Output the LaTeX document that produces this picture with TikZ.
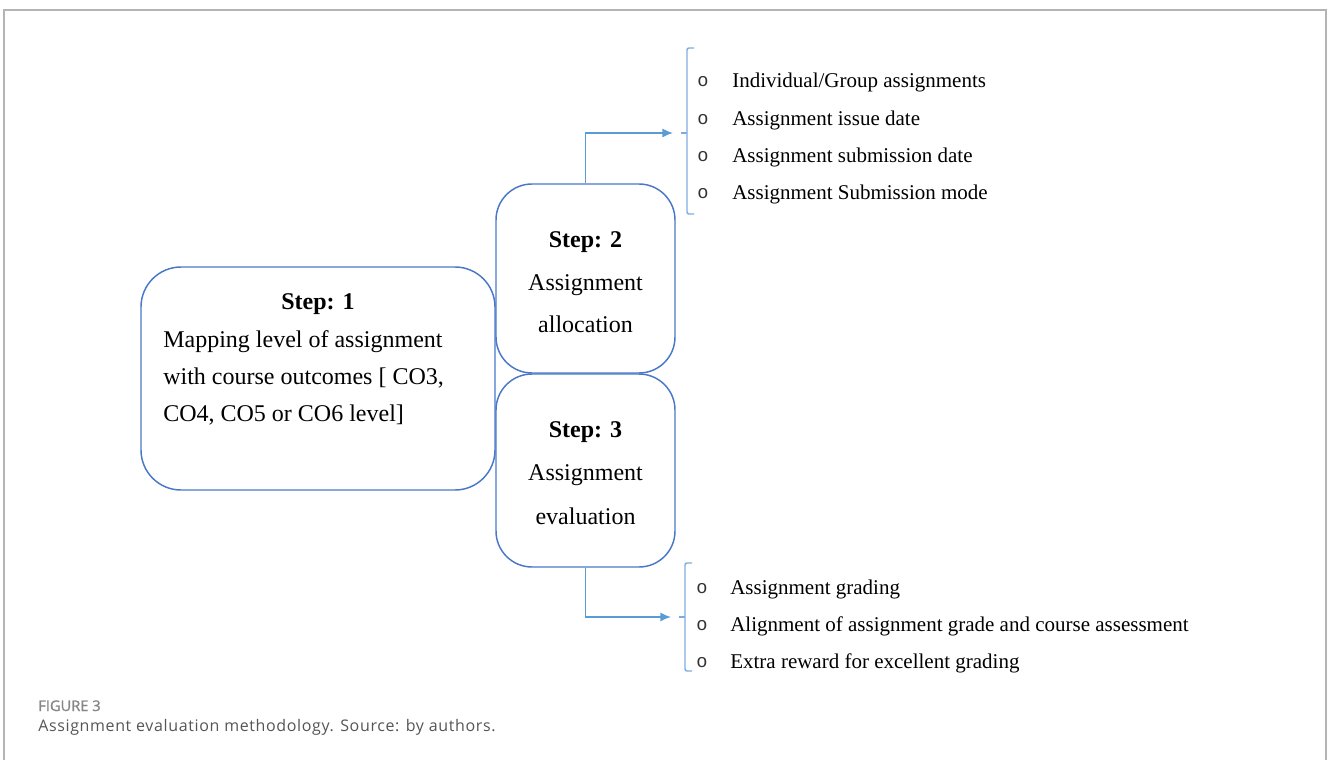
\documentclass[tikz,border=0pt]{standalone}
\usepackage{fontspec}
\setmainfont{Liberation Serif}
\newfontfamily\bulfont{Liberation Mono}
\newfontfamily\capfont[LetterSpace=4]{Open Sans}
\newfontfamily\caphead[FakeBold=1.2]{Open Sans}
\usetikzlibrary{arrows.meta}
\definecolor{boxblue}{HTML}{4A78C8}
\definecolor{linkblue}{HTML}{5B9BD5}
\definecolor{braceblue}{HTML}{7FAADF}
\definecolor{framegray}{HTML}{B4B4B4}
\definecolor{capgray}{HTML}{868686}
\definecolor{captext}{HTML}{555555}
\definecolor{bulgray}{HTML}{333333}
\begin{document}
\begin{tikzpicture}[x=0.75pt,y=-0.75pt,
  stepbox/.style={draw=boxblue, line width=1.1pt, rounded corners=#1, inner sep=0pt},
  boxtxt/.style={font=\fontsize{18}{22}\selectfont, inner sep=0pt, anchor=mid},
  steptitle/.style={font=\fontsize{18}{22}\selectfont\bfseries, inner sep=0pt, anchor=mid},
  bodyline/.style={font=\fontsize{18}{22}\selectfont, inner sep=0pt, anchor=mid west},
  item/.style={font=\fontsize{15.75}{19}\selectfont, inner sep=0pt, anchor=mid west},
  bul/.style={font=\bulfont\fontsize{14}{16}\selectfont, text=bulgray, inner sep=0pt, anchor=mid},
  link/.style={draw=linkblue, line width=1.4pt, -{Latex[length=8pt,width=7pt]}},
  brace/.style={draw=braceblue, line width=1.1pt},
  frame/.style={draw=framegray, line width=1.5pt}]
\useasboundingbox (0,0) rectangle (1328,760);

% outer frame (open at the bottom)
\draw[frame] (3.5,760) -- (3.5,9.5) -- (1326,9.5) -- (1326,760);

% step boxes
\node[stepbox=30pt, minimum width=265.5pt, minimum height=167.25pt] (s1) at (318,378.5) {};
\node[stepbox=27pt, minimum width=134.25pt, minimum height=141.75pt] (s2) at (585.5,278.5) {};
\node[stepbox=27pt, minimum width=134.25pt, minimum height=144.75pt] (s3) at (585.5,470.5) {};

% step 1 text
\node[steptitle] (s1h) at (318,306) {Step: 1};
\node[bodyline] (s1a) at (163,344) {Mapping level of assignment};
\node[bodyline] (s1b) at (163,381) {with course outcomes [ CO3,};
\node[bodyline] (s1c) at (163,418) {CO4, CO5 or CO6 level]};

% step 2 text
\node[steptitle] (s2h) at (585.5,244) {Step: 2};
\node[boxtxt] (s2a) at (585.5,287) {Assignment};
\node[boxtxt] (s2b) at (585.5,329) {allocation};

% step 3 text
\node[steptitle] (s3h) at (585.5,434) {Step: 3};
\node[boxtxt] (s3a) at (585.5,477) {Assignment};
\node[boxtxt] (s3b) at (585.5,521) {evaluation};

% brackets holding the lists
\coordinate (b1) at (681,133);
\coordinate (b2) at (679,617);
\draw[brace, rounded corners=1.5pt] (694,48) -- (687,48) -- (687,214) -- (694,214);
\draw[brace] (b1) -- (687,133);
\draw[brace, rounded corners=1.5pt] (692,563) -- (685,563) -- (685,671) -- (692,671);
\draw[brace] (b2) -- (685,617);

% connectors
\draw[link] (s2.north) |- ([xshift=-6pt]b1);
\draw[link] (s3.south) |- ([xshift=-6pt]b2);

% allocation list
\node[bul] (o1) at (703,83) {o};
\node[item] (i1) at (732,84) {Individual/Group assignments};
\node[bul] (o2) at (703,121) {o};
\node[item] (i2) at (732,122) {Assignment issue date};
\node[bul] (o3) at (703,158) {o};
\node[item] (i3) at (732,159) {Assignment submission date};
\node[bul] (o4) at (703,195) {o};
\node[item] (i4) at (732,196) {Assignment Submission mode};

% evaluation list
\node[bul] (o5) at (702,590) {o};
\node[item] (i5) at (730,591) {Assignment grading};
\node[bul] (o6) at (702,627) {o};
\node[item] (i6) at (730,628) {Alignment of assignment grade and course assessment};
\node[bul] (o7) at (702,664) {o};
\node[item] (i7) at (730,665) {Extra reward for excellent grading};

% caption
\node[anchor=base west, inner sep=0pt, font=\caphead\fontsize{11}{13}\selectfont, text=capgray] (fig) at (38,711) {FIGURE 3};
\node[anchor=base west, inner sep=0pt, font=\capfont\fontsize{12}{14}\selectfont, text=captext] (cap) at (38,731) {Assignment evaluation methodology. Source: by authors.};
\end{tikzpicture}
\end{document}
